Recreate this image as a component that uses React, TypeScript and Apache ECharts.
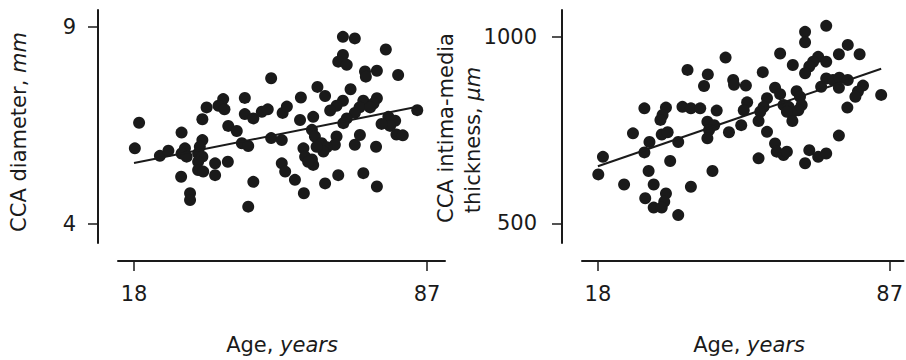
import React, { useEffect, useRef } from "react";
import * as echarts from "echarts";

// Left panel: CCA diameter (mm) vs age
const leftAge = [
  50.3, 44.1, 39.0, 37.9, 39.3, 35.1, 34.1, 44.1, 46.1, 48.1, 49.5, 19.2, 40.2, 42.2, 29.2, 34.1,
  43.4, 44.9, 50.3, 18.2, 24.1, 26.1, 30.0, 29.2, 30.4, 33.5, 33.1, 34.1, 33.1, 33.1, 34.3, 37.1,
  40.1, 37.1, 29.1, 46.1, 31.2, 31.2, 44.9, 52.8, 53.6, 52.8, 53.0, 54.0,
  67.2, 70.0, 77.3, 67.2, 66.1, 68.1, 72.4, 72.6, 75.2, 80.2, 61.2, 69.0, 63.0, 57.3, 67.2, 65.7,
  64.2, 72.0, 71.1, 70.0, 75.2, 74.4, 73.6, 84.7, 57.1, 60.2, 68.1, 67.3, 77.9, 79.5, 78.3, 76.3,
  79.8, 81.3, 59.9, 60.6, 65.7, 65.3, 71.2, 70.0, 62.2, 63.4, 62.6, 61.0, 57.9, 58.3, 59.9, 60.2,
  59.0, 75.0, 55.9, 66.1, 63.0, 72.0, 58.0, 75.2,
];
const leftDiameter = [
  7.70, 7.20, 7.17, 7.00, 6.91, 6.96, 6.66, 6.79, 6.68, 6.85, 6.91, 6.57, 6.49, 6.36, 6.32, 6.13,
  6.05, 5.98, 6.18, 5.92, 5.73, 5.86, 5.92, 5.79, 5.71, 5.96, 5.79, 5.71, 5.58, 5.37, 5.33, 5.54,
  5.58, 5.24, 5.20, 5.07, 4.78, 4.61, 4.44, 5.54, 5.33, 6.13, 6.82, 6.98,
  8.75, 8.71, 8.43, 8.29, 8.12, 8.04, 7.87, 7.74, 7.89, 7.78, 7.48, 7.42, 7.25, 7.21, 7.13, 7.00,
  6.88, 7.13, 6.96, 6.82, 7.19, 7.06, 6.96, 6.89, 6.64, 6.72, 6.68, 6.56, 6.72, 6.62, 6.49, 6.54,
  6.27, 6.25, 6.39, 6.22, 6.22, 6.01, 6.26, 6.01, 6.05, 5.95, 5.84, 5.96, 5.92, 5.71, 5.64, 5.50,
  5.58, 5.96, 5.12, 5.24, 5.03, 5.29, 4.78, 4.95,
];
const leftFitAge = [18, 85];
const leftFitValue = [5.55, 6.98];
const leftTicks = [4, 9];

// Right panel: CCA intima-media thickness (µm) vs age
const rightAge = [
  48.2, 39.2, 44.0, 43.1, 50.0, 50.2, 29.0, 34.1, 33.3, 32.8, 38.0, 40.0, 42.2, 46.1, 43.9, 45.5,
  44.3, 43.9, 49.0, 26.3, 33.1, 34.5, 30.2, 37.0, 29.0, 19.2, 35.1, 18.1, 30.0, 45.1, 24.2, 31.2,
  40.0, 34.1, 33.7, 29.2, 31.2, 33.1, 37.0,
  72.0, 67.0, 67.0, 77.1, 61.1, 75.0, 79.9, 64.1, 70.1, 68.9, 68.0, 67.0, 72.0, 57.0, 53.0, 59.9,
  61.1, 65.0, 65.8, 66.2, 65.4, 72.0, 73.6, 75.1, 77.1, 75.0, 70.8, 80.7, 79.5, 78.9, 85.0, 77.0,
  53.3, 52.5, 58.0, 57.2, 56.4, 61.9, 63.1, 63.8, 62.7, 64.0, 56.0, 51.9, 58.0, 75.0, 59.9, 60.3,
  61.9, 62.7, 56.0, 68.0, 70.1, 72.0, 67.0,
];
const rightThickness = [
  944, 911, 899, 868, 884, 871, 808, 810, 790, 777, 812, 808, 808, 802, 772, 763,
  750, 728, 744, 741, 738, 744, 718, 718, 690, 678, 667, 631, 640, 640, 604, 604,
  598, 580, 558, 567, 542, 542, 522,
  1029, 1013, 985, 978, 955, 953, 953, 924, 946, 933, 920, 902, 933, 905, 869, 863,
  846, 854, 839, 817, 803, 888, 884, 890, 884, 863, 866, 869, 853, 839, 844, 810,
  824, 803, 835, 812, 799, 817, 812, 795, 799, 774, 774, 763, 745, 735, 714, 692,
  683, 692, 674, 696, 678, 687, 661,
];
const rightFitAge = [18, 85];
const rightFitValue = [653, 914];
const rightTicks = [500, 1000];

const ageTicks = [18, 87];

const INK = "#1a1a1a";
const FONT = "DejaVu Sans";

const plain = (v: number) => String(v);

function makeXAxis(gridIndex: number, min: number, max: number) {
  return {
    gridIndex,
    type: "value" as const,
    min,
    max,
    offset: 18,
    axisLine: { show: true, onZero: false, lineStyle: { color: INK, width: 2 } },
    axisTick: { show: true, length: 10, customValues: ageTicks, lineStyle: { color: INK, width: 1.5 } },
    axisLabel: {
      show: true,
      customValues: ageTicks,
      formatter: plain,
      margin: 22,
      fontSize: 21,
      fontFamily: FONT,
      color: INK,
    },
    splitLine: { show: false },
  };
}

function makeYAxis(gridIndex: number, min: number, max: number, ticks: number[], margin: number) {
  return {
    gridIndex,
    type: "value" as const,
    min,
    max,
    offset: 20,
    axisLine: { show: true, onZero: false, lineStyle: { color: INK, width: 2 } },
    axisTick: { show: true, length: 10, customValues: ticks, lineStyle: { color: INK, width: 1.5 } },
    axisLabel: {
      show: true,
      customValues: ticks,
      formatter: plain,
      margin,
      fontSize: 21,
      fontFamily: FONT,
      color: INK,
    },
    splitLine: { show: false },
  };
}

function titleText(x: number, y: number, text: string, rotated: boolean) {
  return {
    type: "text",
    x,
    y,
    rotation: rotated ? Math.PI / 2 : 0,
    style: {
      text,
      fill: INK,
      fontSize: 21,
      fontFamily: FONT,
      align: "center",
      verticalAlign: "middle",
      rich: {
        i: { fontStyle: "italic", fontSize: 21, fontFamily: FONT, fill: INK },
      },
    },
  };
}

export default function App() {
  const ref = useRef<HTMLDivElement>(null);

  useEffect(() => {
    document.body.style.margin = "0";
    if (!ref.current) return;
    const chart = echarts.init(ref.current, null, { renderer: "svg" });
    chart.setOption({
      animation: false,
      backgroundColor: "#ffffff",
      grid: [
        { left: 118, top: 10, width: 327, height: 233 },
        { left: 582, top: 10, width: 324, height: 233 },
      ],
      xAxis: [makeXAxis(0, 14.232, 91.238), makeXAxis(1, 14.245, 90.285)],
      yAxis: [
        makeYAxis(0, 3.5178, 9.4315, leftTicks, 22),
        makeYAxis(1, 447.2, 1071.5, rightTicks, 25),
      ],
      graphic: [
        titleText(19, 132, "CCA diameter, {i|mm}", true),
        titleText(446, 128, "CCA intima-media", true),
        titleText(473, 140, "thickness, {i|μm}", true),
        titleText(282, 345, "Age, {i|years}", false),
        titleText(749, 345, "Age, {i|years}", false),
      ],
      series: [
        {
          type: "scatter",
          xAxisIndex: 0,
          yAxisIndex: 0,
          symbolSize: 12,
          itemStyle: { color: INK, opacity: 1 },
          data: leftAge.map((a, i) => [a, leftDiameter[i]]),
        },
        {
          type: "line",
          xAxisIndex: 0,
          yAxisIndex: 0,
          showSymbol: false,
          symbol: "none",
          lineStyle: { color: INK, width: 2 },
          data: leftFitAge.map((a, i) => [a, leftFitValue[i]]),
        },
        {
          type: "scatter",
          xAxisIndex: 1,
          yAxisIndex: 1,
          symbolSize: 12,
          itemStyle: { color: INK, opacity: 1 },
          data: rightAge.map((a, i) => [a, rightThickness[i]]),
        },
        {
          type: "line",
          xAxisIndex: 1,
          yAxisIndex: 1,
          showSymbol: false,
          symbol: "none",
          lineStyle: { color: INK, width: 2 },
          data: rightFitAge.map((a, i) => [a, rightFitValue[i]]),
        },
      ],
    });
    return () => chart.dispose();
  }, []);

  return <div ref={ref} style={{ width: 906, height: 360 }} />;
}
